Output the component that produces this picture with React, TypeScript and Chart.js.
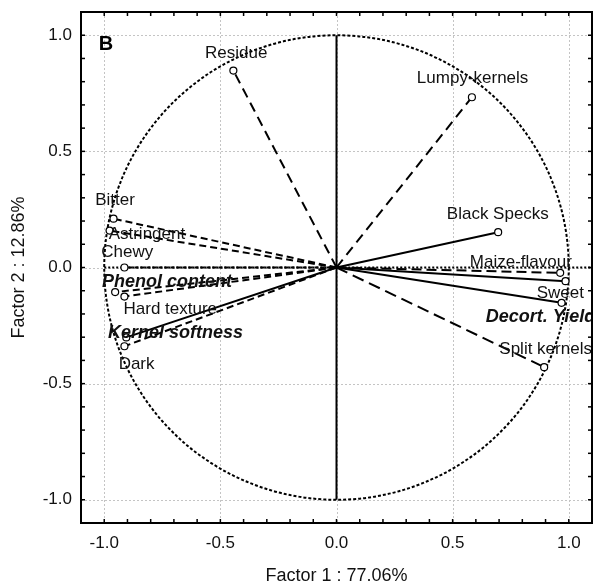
import React, { useEffect, useRef } from "react";
import { Chart, registerables } from "chart.js";

Chart.register(...registerables);

const varNames = [
  "Residue", "Lumpy-kernels", "Black Specks", "Maize-flavour", "Sweet", "Decort. Yield",
  "Split kernels", "Bitter", "Astringent", "Chewy", "Phenol content", "Hard texture",
  "Kernel softness", "Dark",
];
const factor1 = [-0.444, 0.583, 0.696, 0.963, 0.986, 0.969, 0.894, -0.96, -0.977, -0.913, -0.953, -0.913, -0.905, -0.913];
const factor2 = [0.848, 0.733, 0.152, -0.023, -0.059, -0.152, -0.429, 0.21, 0.159, 0.0, -0.106, -0.125, -0.301, -0.339];
const supplementary = [false, false, false, false, false, true, false, false, false, false, true, false, true, false];
// label anchors (data units, left edge / vertical middle)
const labelX = [-0.566, 0.346, 0.475, 0.574, 0.862, 0.643, 0.701, -1.039, -0.981, -1.013, -1.01, -0.917, -0.984, -0.938];
const labelY = [0.921, 0.814, 0.228, 0.023, -0.109, -0.214, -0.354, 0.288, 0.145, 0.066, -0.063, -0.178, -0.283, -0.415];
const lineDashes: number[][] = [
  [10, 6], [10, 6], [], [10, 5], [], [], [12, 6], [7, 4], [7, 4], [4, 2], [7, 4], [7, 4], [], [7, 4],
];
const majorTicks = [-1, -0.5, 0, 0.5, 1];
const minorTicks = [-1, -0.9, -0.8, -0.7, -0.6, -0.5, -0.4, -0.3, -0.2, -0.1, 0, 0.1, 0.2, 0.3, 0.4, 0.5, 0.6, 0.7, 0.8, 0.9, 1];
const panelLabel = "B";
const xTitle = "Factor 1 : 77.06%";
const yTitle = "Factor 2 : 12.86%";

const FONT = '"Liberation Sans", Arial, sans-serif';

const decorPlugin = {
  id: "decor",
  beforeDatasetsDraw(chart: any) {
    const { ctx, chartArea: a, scales } = chart;
    const xs = scales.x, ys = scales.y;
    ctx.save();
    // grid
    ctx.strokeStyle = "#c4c4c4";
    ctx.lineWidth = 1;
    ctx.setLineDash([2, 2]);
    majorTicks.forEach((v) => {
      const px = Math.round(xs.getPixelForValue(v)) + 0.5;
      ctx.beginPath(); ctx.moveTo(px, a.top); ctx.lineTo(px, a.bottom); ctx.stroke();
      const py = Math.round(ys.getPixelForValue(v)) + 0.5;
      ctx.beginPath(); ctx.moveTo(a.left, py); ctx.lineTo(a.right, py); ctx.stroke();
    });
    // unit circle
    const cx = xs.getPixelForValue(0), cy = ys.getPixelForValue(0);
    const rx = xs.getPixelForValue(1) - cx;
    ctx.strokeStyle = "#000";
    ctx.lineWidth = 2;
    ctx.setLineDash([3, 2]);
    ctx.beginPath(); ctx.arc(cx, cy, rx, 0, Math.PI * 2); ctx.stroke();
    // axes through origin
    ctx.setLineDash([2, 2]);
    ctx.beginPath(); ctx.moveTo(xs.getPixelForValue(-1), cy); ctx.lineTo(a.right, cy); ctx.stroke();
    ctx.setLineDash([]);
    ctx.beginPath(); ctx.moveTo(cx, ys.getPixelForValue(1)); ctx.lineTo(cx, ys.getPixelForValue(-1)); ctx.stroke();
    ctx.restore();
  },
  afterDatasetsDraw(chart: any) {
    const { ctx, chartArea: a, scales } = chart;
    const xs = scales.x, ys = scales.y;
    ctx.save();
    ctx.beginPath(); ctx.rect(a.left, a.top, a.right - a.left, a.bottom - a.top); ctx.clip();
    ctx.fillStyle = "#111";
    ctx.textBaseline = "middle";
    ctx.textAlign = "left";
    varNames.forEach((n, i) => {
      ctx.font = supplementary[i] ? "italic bold 18px " + FONT : "17px " + FONT;
      ctx.fillText(n, xs.getPixelForValue(labelX[i]), ys.getPixelForValue(labelY[i]));
    });
    ctx.font = "bold 20px " + FONT;
    ctx.fillStyle = "#000";
    ctx.fillText(panelLabel, xs.getPixelForValue(-1.024), ys.getPixelForValue(0.961));
    ctx.restore();
    // frame
    ctx.save();
    ctx.strokeStyle = "#000";
    ctx.lineWidth = 2;
    ctx.strokeRect(a.left, a.top, a.right - a.left, a.bottom - a.top);
    ctx.lineWidth = 1.5;
    minorTicks.forEach((v) => {
      const px = xs.getPixelForValue(v);
      ctx.beginPath(); ctx.moveTo(px, a.top); ctx.lineTo(px, a.top + 4); ctx.stroke();
      ctx.beginPath(); ctx.moveTo(px, a.bottom); ctx.lineTo(px, a.bottom - 4); ctx.stroke();
      const py = ys.getPixelForValue(v);
      ctx.beginPath(); ctx.moveTo(a.left, py); ctx.lineTo(a.left + 4, py); ctx.stroke();
      ctx.beginPath(); ctx.moveTo(a.right, py); ctx.lineTo(a.right - 4, py); ctx.stroke();
    });
    ctx.restore();
  },
};

function zeroPad(s: any) {
  s.paddingTop = 0;
  s.paddingBottom = 0;
  s.paddingLeft = 0;
  s.paddingRight = 0;
}

export default function App() {
  const ref = useRef<HTMLCanvasElement>(null);
  useEffect(() => {
    if (!ref.current) return;
    const datasets = varNames.map((n, i) => ({
      label: n,
      data: [{ x: 0, y: 0 }, { x: factor1[i], y: factor2[i] }],
      showLine: true,
      borderColor: "#000",
      borderWidth: 2,
      borderDash: lineDashes[i],
      pointRadius: [0, 3.5],
      pointBorderWidth: 1.2,
      pointBorderColor: "#000",
      pointBackgroundColor: "#fff",
      tension: 0,
    }));
    const tickFont = { family: FONT, size: 17 };
    const titleFont = { family: FONT, size: 18 };
    const chart = new Chart(ref.current, {
      type: "scatter",
      data: { datasets },
      plugins: [decorPlugin],
      options: {
        animation: false,
        responsive: false,
        layout: { autoPadding: false, padding: { top: 12, right: 1, left: 0, bottom: 0 } },
        plugins: { legend: { display: false }, tooltip: { enabled: false } },
        scales: {
          x: {
            type: "linear",
            min: -1.1,
            max: 1.1,
            afterBuildTicks: (s: any) => { s.ticks = majorTicks.map((v) => ({ value: v })); },
            afterFit: (s: any) => { s.height = 64; zeroPad(s); },
            grid: { display: false, drawTicks: false },
            border: { display: false },
            ticks: { color: "#111", font: tickFont, padding: 10, callback: (v: any) => Number(v).toFixed(1) },
            title: { display: true, text: xTitle, color: "#111", font: titleFont, padding: { top: 0, bottom: 0 } },
          },
          y: {
            type: "linear",
            min: -1.1,
            max: 1.1,
            afterBuildTicks: (s: any) => { s.ticks = majorTicks.map((v) => ({ value: v })); },
            afterFit: (s: any) => { s.width = 81; zeroPad(s); },
            grid: { display: false, drawTicks: false },
            border: { display: false },
            ticks: { color: "#111", font: tickFont, padding: 9, callback: (v: any) => Number(v).toFixed(1) },
            title: { display: true, text: yTitle, color: "#111", font: titleFont, padding: { top: 8, bottom: 0 } },
          },
        },
      },
    } as any);
    return () => chart.destroy();
  }, []);
  return (
    <div style={{ position: "absolute", left: 0, top: 0, width: 593, height: 587 }}>
      <canvas ref={ref} width={593} height={587} />
    </div>
  );
}
